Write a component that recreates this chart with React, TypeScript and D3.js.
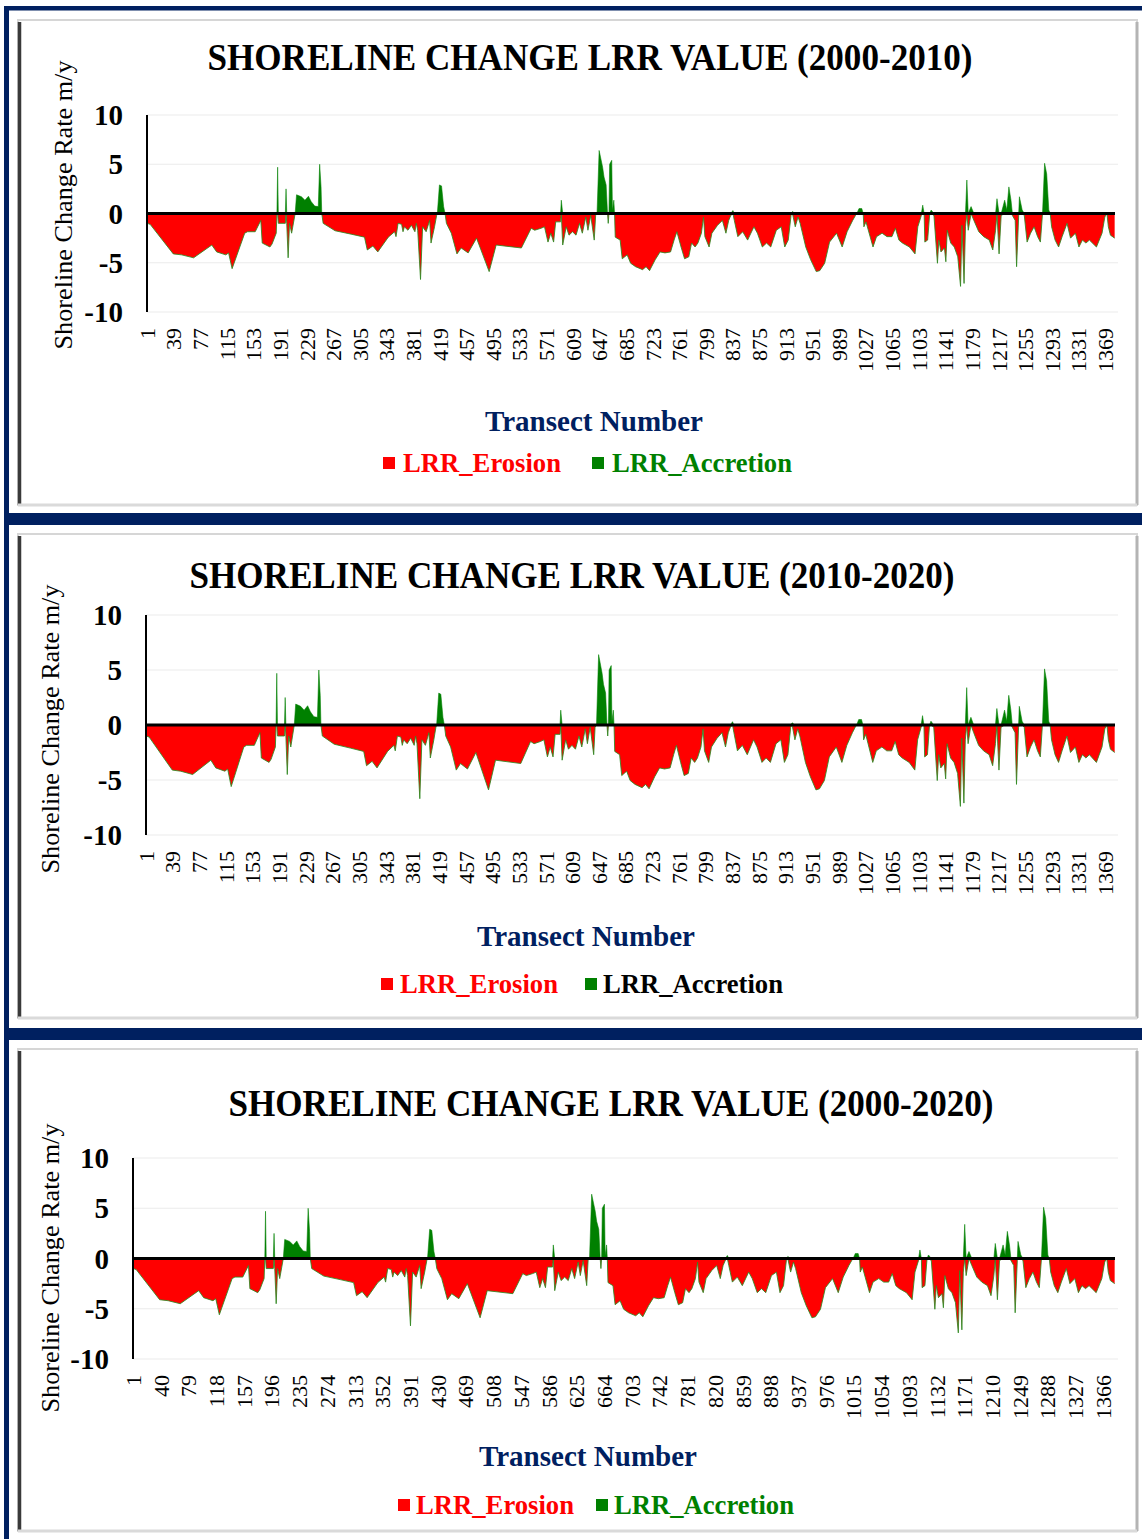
import * as React from 'react'
import { useEffect, useRef } from 'react'
import * as d3 from 'd3'

// breakpoints of the LRR profile: [transect, rate m/y]
const lrrProfile: [number, number][] = [
  [1, -1.0], [5, -1.1], [38, -4.1], [50, -4.2], [67, -4.5], [93, -3.2], [100, -3.9], [113, -4.2], [117, -4.0],
  [122, -5.6], [140, -2.0], [144, -1.85], [155, -1.85], [163, -0.7], [165, -3.0], [176, -3.4], [179, -3.1],
  [185, -2.0], [186, 0], [187, 4.7], [188, -1.0], [198, -1.0], [199, 2.5], [200, -1.0], [202, -4.5], [204, -1.0],
  [207, -2.0], [212, 0], [214, 1.9], [221, 1.7], [226, 1.35], [231, 1.75], [235, 1.2], [240, 0.75], [245, 0.7],
  [247, 5.0], [249, 2.7], [250, 0], [252, -1.0], [269, -1.75], [292, -2.1], [311, -2.4], [315, -3.7], [323, -3.3],
  [330, -3.9], [345, -2.4], [354, -1.85], [356, -2.35], [359, -1.0], [364, -1.1], [366, -1.85], [368, -1.35],
  [373, -1.7], [378, -1.2], [383, -1.85], [385, -1.0], [387, -1.7], [391, -6.7], [394, -1.35], [399, -1.85],
  [404, -0.7], [406, -3.0], [411, -1.35], [414, -0.2], [415, 0], [418, 2.9], [421, 2.8], [424, 0.7], [426, 0],
  [428, -1.0], [435, -2.0], [443, -4.1], [449, -3.5], [459, -4.0], [471, -2.5], [489, -5.9], [499, -3.2],
  [535, -3.5], [549, -1.5], [554, -1.7], [563, -1.5], [568, -1.35], [573, -2.9], [577, -2.0], [581, -2.9],
  [584, -0.85], [591, -0.85], [592, 1.35], [594, -3.2], [599, -1.35], [603, -2.2], [608, -1.85], [613, -2.2],
  [618, -1.0], [622, -2.0], [627, -0.35], [630, -1.7], [634, -0.2], [639, -2.7], [641, -0.2], [643, 0],
  [646, 6.4], [651, 4.7], [653, 3.7], [656, 2.9], [658, 0], [659, -1.0], [660, 0], [661, 5.0], [664, 5.4],
  [665, 0.3], [667, 1.35], [668, 0], [669, -2.4], [676, -2.7], [679, -4.6], [686, -4.2], [691, -5.05],
  [698, -5.4], [708, -5.7], [713, -5.4], [718, -5.8], [726, -4.7], [733, -3.9], [740, -4.0], [748, -3.9],
  [753, -2.7], [757, -1.85], [763, -3.4], [768, -4.6], [774, -4.4], [778, -3.0], [783, -3.4], [787, -3.0],
  [792, -2.0], [795, -0.35], [797, -2.35], [803, -3.4], [807, -2.0], [815, -1.2], [822, -0.7], [827, -2.0],
  [831, -0.7], [834, -0.2], [837, 0.3], [839, -0.7], [844, -2.35], [851, -1.85], [858, -2.7], [867, -1.35],
  [872, -2.0], [879, -3.4], [885, -3.0], [891, -3.4], [899, -1.7], [906, -1.35], [911, -3.4], [916, -2.7],
  [920, -0.2], [922, 0.2], [926, -1.35], [930, -0.35], [933, -1.0], [941, -3.4], [948, -4.7], [956, -5.9],
  [961, -5.8], [968, -5.05], [975, -2.9], [985, -2.0], [993, -3.4], [1000, -1.85], [1008, -0.7], [1012, -0.2],
  [1014, 0], [1017, 0.5], [1021, 0.5], [1023, 0], [1024, -1.35], [1027, -0.85], [1037, -3.4], [1042, -2.35],
  [1050, -2.0], [1057, -2.35], [1064, -2.35], [1069, -1.5], [1074, -2.7], [1079, -3.0], [1089, -3.4],
  [1097, -4.1], [1101, -1.35], [1106, -0.2], [1108, 0.85], [1110, 0], [1111, -2.9], [1115, -2.7], [1118, 0],
  [1120, 0.35], [1124, -0.2], [1129, -5.05], [1131, -2.7], [1134, -3.9], [1139, -3.5], [1141, -4.9],
  [1143, -1.7], [1148, -3.0], [1153, -3.4], [1158, -4.4], [1162, -7.4], [1164, -1.2], [1167, -7.1],
  [1169, -1.35], [1171, 3.4], [1173, -1.7], [1177, 0.7], [1181, -0.7], [1188, -1.85], [1195, -2.35],
  [1203, -2.7], [1208, -3.7], [1212, -1.7], [1214, 1.5], [1217, -4.1], [1220, -0.2], [1225, 1.35],
  [1228, 0.35], [1231, 2.7], [1234, 1.35], [1236, -0.2], [1240, -0.7], [1242, -5.4], [1245, -0.2],
  [1246, 1.7], [1250, 0.35], [1253, -0.2], [1257, -2.9], [1262, -2.0], [1267, -1.35], [1272, -2.35],
  [1276, -2.9], [1279, 0], [1282, 5.1], [1285, 4.0], [1288, 0.35], [1290, 0], [1292, -1.35], [1297, -2.7],
  [1302, -3.4], [1307, -2.35], [1314, -1.0], [1319, -2.5], [1326, -2.0], [1331, -3.4], [1336, -2.7],
  [1341, -3.0], [1346, -2.7], [1356, -3.4], [1364, -2.0], [1368, -0.35], [1371, 0], [1373, -1.35],
  [1376, -2.2], [1382, -2.5],
]

const transectCount = 1382
const yTicks = [10, 5, 0, -5, -10]
const titles = [
  'SHORELINE CHANGE LRR VALUE (2000-2010)',
  'SHORELINE CHANGE LRR VALUE (2010-2020)',
  'SHORELINE CHANGE LRR VALUE (2000-2020)',
]
const tickSteps = [38, 38, 39]
const seriesNames = ['LRR_Erosion', 'LRR_Accretion']

const NAVY = '#002060'
const RED = '#ff0000'
const GREEN = '#008000'
const SERIF = '"Liberation Serif", "Times New Roman", serif'

// layout of each of the three stacked panels
const layouts = [
  { boxTop: 20, boxBottom: 505, axisX: 147, plotTop: 115, plotBottom: 312, titleX: 590, titleY: 70,
    yTitleX: 63, yTitleY: 205, xTitleX: 594, xTitleY: 431,
    legendX: 383, legendY: 472, gap: [20, 209, 229], accrLabel: GREEN },
  { boxTop: 534, boxBottom: 1018, axisX: 146, plotTop: 615, plotBottom: 835, titleX: 572, titleY: 588,
    yTitleX: 50, yTitleY: 729, xTitleX: 586, xTitleY: 946,
    legendX: 381, legendY: 993, gap: [19, 204, 222], accrLabel: '#000000' },
  { boxTop: 1049, boxBottom: 1531, axisX: 133, plotTop: 1158, plotBottom: 1359, titleX: 611, titleY: 1116,
    yTitleX: 50, yTitleY: 1268, xTitleX: 588, xTitleY: 1466,
    legendX: 398, legendY: 1514, gap: [18, 198, 216], accrLabel: GREEN },
]
const plotRight = 1115

export default function App() {
  const svgRef = useRef<SVGSVGElement>(null)

  useEffect(() => {
    if (!svgRef.current) return
    const svg = d3.select(svgRef.current)
    svg.selectAll('*').remove()

    svg.append('rect').attr('width', 1142).attr('height', 1539).attr('fill', '#fff')

    // navy frame
    svg.append('rect').attr('x', 4).attr('y', 6).attr('width', 1138).attr('height', 4.5).attr('fill', NAVY)
    svg.append('rect').attr('x', 4).attr('y', 6).attr('width', 5).attr('height', 1533).attr('fill', NAVY)
    svg.append('rect').attr('x', 4).attr('y', 513).attr('width', 1138).attr('height', 12).attr('fill', NAVY)
    svg.append('rect').attr('x', 4).attr('y', 1028).attr('width', 1138).attr('height', 12).attr('fill', NAVY)

    const erosion = lrrProfile.map(([t, v]) => [t, Math.min(v, 0)] as [number, number])
    const accretion = lrrProfile.map(([t, v]) => [t, Math.max(v, 0)] as [number, number])

    layouts.forEach((L, i) => {
      const g = svg.append('g')

      // panel box with Excel-like shadow
      g.append('rect')
        .attr('x', 18).attr('y', L.boxTop).attr('width', 1119).attr('height', L.boxBottom - L.boxTop)
        .attr('fill', '#fff').attr('stroke', '#d6d6d6').attr('stroke-width', 2)
      g.append('line').attr('x1', 19.5).attr('x2', 19.5).attr('y1', L.boxTop + 2).attr('y2', L.boxBottom)
        .attr('stroke', '#3a3a3a').attr('stroke-width', 3.5)
      g.append('line').attr('x1', 1137).attr('x2', 1137).attr('y1', L.boxTop + 2).attr('y2', L.boxBottom)
        .attr('stroke', '#b4b4b4').attr('stroke-width', 3)
      g.append('line').attr('x1', 18).attr('x2', 1137).attr('y1', L.boxBottom).attr('y2', L.boxBottom)
        .attr('stroke', '#dadada').attr('stroke-width', 3)

      const x = d3.scaleLinear().domain([0.5, transectCount + 0.5]).range([L.axisX, plotRight])
      const y = d3.scaleLinear().domain([-10, 10]).range([L.plotBottom, L.plotTop])

      // gridlines
      g.selectAll('.grid').data(yTicks.filter(d => d !== 0)).join('line')
        .attr('x1', L.axisX).attr('x2', plotRight + 3)
        .attr('y1', d => y(d)).attr('y2', d => y(d))
        .attr('stroke', '#ebebeb').attr('stroke-width', 1)

      const area = d3.area<[number, number]>()
        .x(d => x(d[0])).y0(y(0)).y1(d => y(d[1]))
      const line = d3.line<[number, number]>()
        .x(d => x(d[0])).y(d => y(d[1]))

      g.append('path').attr('d', area(erosion) || '').attr('fill', RED)
      g.append('path').attr('d', line(erosion) || '').attr('fill', 'none')
        .attr('stroke', '#2e8a22').attr('stroke-width', 1).attr('stroke-opacity', 0.85)
      g.append('path').attr('d', area(accretion) || '').attr('fill', GREEN)
        .attr('stroke', GREEN).attr('stroke-width', 0.8).attr('stroke-opacity', 0.7)

      // axes
      g.append('line').attr('x1', L.axisX).attr('x2', L.axisX).attr('y1', L.plotTop).attr('y2', L.plotBottom)
        .attr('stroke', '#000').attr('stroke-width', 2)
      g.append('line').attr('x1', L.axisX).attr('x2', plotRight).attr('y1', y(0)).attr('y2', y(0))
        .attr('stroke', '#000').attr('stroke-width', 3)

      g.selectAll('.ytick').data(yTicks).join('text')
        .attr('x', L.axisX - 24).attr('y', d => y(d))
        .attr('text-anchor', 'end').attr('dominant-baseline', 'central')
        .attr('font-family', SERIF).attr('font-weight', 'bold').attr('font-size', 29)
        .attr('fill', '#000').text(d => d)

      const ticks = d3.range(1, transectCount + 1, tickSteps[i])
      g.selectAll('.xtick').data(ticks).join('text')
        .attr('transform', d => `translate(${x(d)}, ${L.plotBottom + 16}) rotate(-90)`)
        .attr('text-anchor', 'end').attr('dominant-baseline', 'central')
        .attr('font-family', SERIF).attr('font-size', 22).attr('fill', '#000')
        .text(d => d)

      // titles
      g.append('text').attr('x', L.titleX).attr('y', L.titleY).attr('text-anchor', 'middle')
        .attr('font-family', SERIF).attr('font-weight', 'bold').attr('font-size', 37)
        .attr('textLength', 765).attr('lengthAdjust', 'spacingAndGlyphs')
        .attr('fill', '#000').text(titles[i])

      g.append('text').attr('transform', `translate(${L.yTitleX}, ${L.yTitleY}) rotate(-90)`)
        .attr('text-anchor', 'middle').attr('dominant-baseline', 'central')
        .attr('font-family', SERIF).attr('font-size', 26)
        .attr('textLength', 289).attr('lengthAdjust', 'spacingAndGlyphs')
        .attr('fill', '#000').text('Shoreline Change Rate m/y')

      g.append('text').attr('x', L.xTitleX).attr('y', L.xTitleY).attr('text-anchor', 'middle')
        .attr('font-family', SERIF).attr('font-weight', 'bold').attr('font-size', 29)
        .attr('textLength', 218).attr('lengthAdjust', 'spacingAndGlyphs')
        .attr('fill', NAVY).text('Transect Number')

      // legend
      const lg = g.append('g').attr('transform', `translate(${L.legendX}, ${L.legendY})`)
      lg.append('rect').attr('x', 0).attr('y', -15).attr('width', 12).attr('height', 12).attr('fill', RED)
      lg.append('text').attr('x', L.gap[0]).attr('y', 0)
        .attr('font-family', SERIF).attr('font-weight', 'bold').attr('font-size', 27)
        .attr('textLength', 158).attr('lengthAdjust', 'spacingAndGlyphs')
        .attr('fill', RED).text(seriesNames[0])
      lg.append('rect').attr('x', L.gap[1]).attr('y', -15).attr('width', 12).attr('height', 12).attr('fill', GREEN)
      lg.append('text').attr('x', L.gap[2]).attr('y', 0)
        .attr('font-family', SERIF).attr('font-weight', 'bold').attr('font-size', 27)
        .attr('textLength', 180).attr('lengthAdjust', 'spacingAndGlyphs')
        .attr('fill', L.accrLabel).text(seriesNames[1])
    })
  }, [])

  return (
    <svg
      ref={svgRef}
      width={1142}
      height={1539}
      style={{ position: 'absolute', left: 0, top: 0 }}
    />
  )
}
